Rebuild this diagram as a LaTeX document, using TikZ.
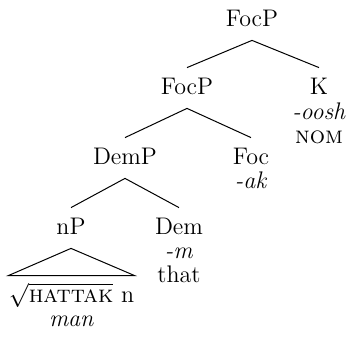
\documentclass[tikz,border=0pt]{standalone}
\begin{document}
\begin{tikzpicture}[x=0.5pt,y=-0.5pt,
  font=\fontsize{12pt}{14pt}\selectfont,
  cat/.style={anchor=base,text height=7pt,text depth=0pt,inner xsep=0pt,inner ysep=6.5pt},
  gloss/.style={anchor=base,inner sep=0pt},
  branch/.style={line width=0.5pt}]
  \useasboundingbox (0,0) rectangle (349,341);
  % category labels
  \node[cat] (focp) at (252,27) {FocP};
  \node[cat] (focpb) at (187,95) {FocP};
  \node[cat] (k) at (319,95) {K};
  \node[cat] (demp) at (125,165) {DemP};
  \node[cat] (foc) at (251,165) {Foc};
  \node[cat] (np) at (71,235) {nP};
  \node[cat] (dem) at (179,235) {Dem};
  \node[cat,minimum width=61.5pt] (root) at (71.5,303) {$\sqrt{\mbox{\textsc{hattak}}}$ n};
  % morphemes and glosses
  \node[gloss] (oosh) at (319,120) {\textit{-oosh}};
  \node[gloss] (nom) at (319,144) {\textsc{nom}};
  \node[gloss] (ak) at (251,189) {\textit{-ak}};
  \node[gloss] (m) at (179,259) {\textit{-m}};
  \node[gloss] (that) at (179,283) {that};
  \node[gloss] (man) at (71.5,327) {\textit{man}};
  % branches
  \draw[branch] (focp.south) -- (focpb.north);
  \draw[branch] (focp.south) -- (k.north);
  \draw[branch] (focpb.south) -- (demp.north);
  \draw[branch] (focpb.south) -- (foc.north);
  \draw[branch] (demp.south) -- (np.north);
  \draw[branch] (demp.south) -- (dem.north);
  % roof over the root
  \draw[branch] (np.south) -- (root.north west) -- (root.north east) -- cycle;
\end{tikzpicture}
\end{document}
